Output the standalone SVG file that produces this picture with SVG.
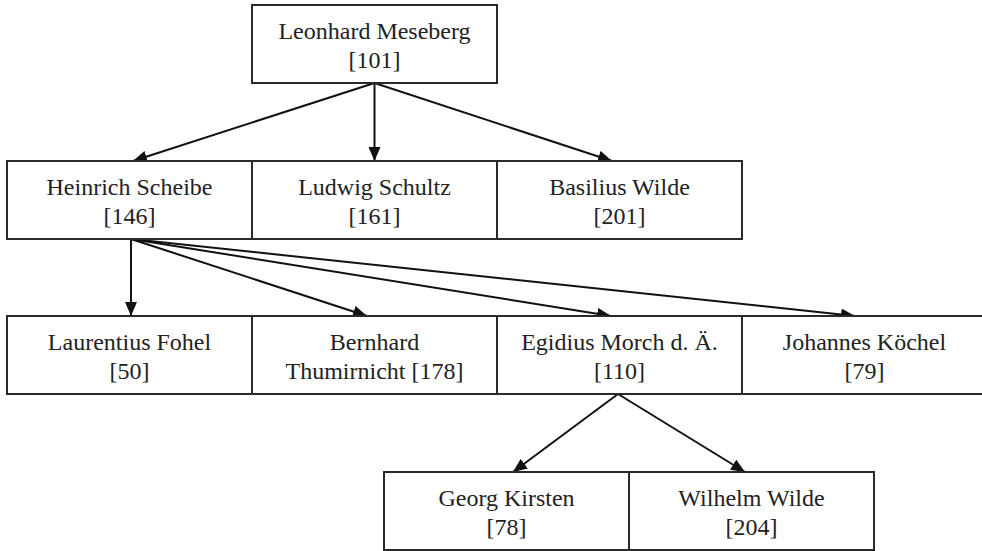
<svg xmlns="http://www.w3.org/2000/svg" width="982" height="551" viewBox="0 0 982 551">
  <defs>
    <marker id="ah" viewBox="0 0 14 12" refX="14" refY="6" markerWidth="14" markerHeight="12" markerUnits="userSpaceOnUse" orient="auto">
      <path d="M0,0 L14,6 L0,12 Z" fill="#111"/>
    </marker>
  </defs>
  <style>
    .box { fill: #fff; stroke: #2a2a2a; stroke-width: 2; }
    .lbl { font-size: 24px; fill: #222; text-anchor: middle; }
    .edge { fill: none; stroke: #111; stroke-width: 2; marker-end: url(#ah); }
  </style>
  <rect width="982" height="551" fill="#fff"/>

  <g id="connectors">
    <line class="edge" x1="374.5" y1="83" x2="133" y2="161"/>
    <line class="edge" x1="374.5" y1="83" x2="374.5" y2="161"/>
    <line class="edge" x1="374.5" y1="83" x2="612" y2="161"/>
    <line class="edge" x1="131" y1="239" x2="131" y2="316"/>
    <line class="edge" x1="131" y1="239" x2="367" y2="316"/>
    <line class="edge" x1="131" y1="239" x2="611" y2="316"/>
    <line class="edge" x1="131" y1="239" x2="855" y2="316"/>
    <line class="edge" x1="618" y1="394" x2="513" y2="472"/>
    <line class="edge" x1="618" y1="394" x2="745" y2="472"/>
  </g>

  <g font-family="Liberation Serif, Times New Roman, serif">
  <g id="n101">
    <rect class="box" x="252" y="5" width="245" height="78"/>
    <text class="lbl" x="374.5" y="39">Leonhard Meseberg</text>
    <text class="lbl" x="374.5" y="68">[101]</text>
  </g>

  <g id="n146">
    <rect class="box" x="7" y="161" width="245" height="78"/>
    <text class="lbl" x="129.5" y="195">Heinrich Scheibe</text>
    <text class="lbl" x="129.5" y="224">[146]</text>
  </g>
  <g id="n161">
    <rect class="box" x="252" y="161" width="245" height="78"/>
    <text class="lbl" x="374.5" y="195">Ludwig Schultz</text>
    <text class="lbl" x="374.5" y="224">[161]</text>
  </g>
  <g id="n201">
    <rect class="box" x="497" y="161" width="245" height="78"/>
    <text class="lbl" x="619.5" y="195">Basilius Wilde</text>
    <text class="lbl" x="619.5" y="224">[201]</text>
  </g>

  <g id="n50">
    <rect class="box" x="7" y="316" width="245" height="78"/>
    <text class="lbl" x="129.5" y="350">Laurentius Fohel</text>
    <text class="lbl" x="129.5" y="379">[50]</text>
  </g>
  <g id="n178">
    <rect class="box" x="252" y="316" width="245" height="78"/>
    <text class="lbl" x="374.5" y="350">Bernhard</text>
    <text class="lbl" x="374.5" y="379">Thumirnicht [178]</text>
  </g>
  <g id="n110">
    <rect class="box" x="497" y="316" width="245" height="78"/>
    <text class="lbl" x="619.5" y="350">Egidius Morch d. Ä.</text>
    <text class="lbl" x="619.5" y="379">[110]</text>
  </g>
  <g id="n79">
    <rect class="box" x="742" y="316" width="245" height="78"/>
    <text class="lbl" x="864.5" y="350">Johannes Köchel</text>
    <text class="lbl" x="864.5" y="379">[79]</text>
  </g>

  <g id="n78">
    <rect class="box" x="384" y="472" width="245" height="78"/>
    <text class="lbl" x="506.5" y="506">Georg Kirsten</text>
    <text class="lbl" x="506.5" y="535">[78]</text>
  </g>
  <g id="n204">
    <rect class="box" x="629" y="472" width="245" height="78"/>
    <text class="lbl" x="751.5" y="506">Wilhelm Wilde</text>
    <text class="lbl" x="751.5" y="535">[204]</text>
  </g>
  </g>
</svg>
